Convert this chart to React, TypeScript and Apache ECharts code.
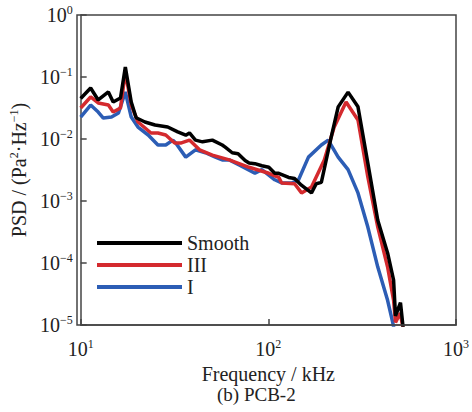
import React, { useEffect, useRef } from "react";
import * as echarts from "echarts";

const smoothFreq = [10, 11.3, 12.4, 14.05, 14.9, 16.3, 17.3, 18.6, 19.75, 22.0, 24.9, 29.1, 32.9, 36.3, 38.0, 40.9, 44.6, 50.3, 56.8, 58.9, 64.2, 69, 75.2, 78.9, 84.8, 92.4, 100.6, 108.2, 113.6, 128.3, 138, 150, 169.8, 180, 191.6, 216.4, 235.6, 266, 300.4, 339, 383, 432, 465, 476, 506, 525];
const smoothPsd = [0.045, 0.0665, 0.0426, 0.0573, 0.0395, 0.0459, 0.145, 0.0395, 0.022, 0.0188, 0.0168, 0.0156, 0.013, 0.0115, 0.0125, 0.0096, 0.009, 0.0096, 0.008, 0.0074, 0.006, 0.0058, 0.0045, 0.0041, 0.004, 0.0037, 0.0035, 0.0028, 0.0028, 0.0024, 0.0023, 0.0018, 0.00135, 0.0019, 0.002, 0.0108, 0.033, 0.057, 0.033, 0.0041, 0.00049, 0.000145, 5.3e-5, 1.4e-5, 2.3e-5, 8e-6];

const iiiFreq = [10, 11.3, 12.4, 14.05, 14.9, 16.3, 17.3, 18.6, 20.2, 23.7, 25.8, 28.4, 31.7, 34.1, 38.0, 43.0, 50.3, 61.9, 78.9, 100.6, 113.6, 117.8, 138, 150.3, 169.8, 198.7, 224.4, 259.5, 300.4, 339, 383, 432, 465, 476, 505, 525];
const iiiPsd = [0.0316, 0.0476, 0.0381, 0.0353, 0.0272, 0.0316, 0.12, 0.0353, 0.0188, 0.0125, 0.0125, 0.0116, 0.0086, 0.0086, 0.0096, 0.0067, 0.0055, 0.0046, 0.0035, 0.0028, 0.0024, 0.00195, 0.0019, 0.00135, 0.00168, 0.0046, 0.0156, 0.0395, 0.0202, 0.00244, 0.00038, 8.6e-5, 2.5e-5, 1.1e-5, 1.56e-5, 8e-6];

const iFreq = [10, 11.3, 12.4, 13.2, 14.6, 15.9, 17.3, 18.6, 20.2, 22.9, 25.8, 28.4, 31.0, 32.1, 36.3, 40.9, 46.2, 52.2, 56.8, 61.9, 69.9, 84.8, 92.4, 108.2, 117.8, 133, 144.9, 163.6, 191.6, 208.5, 235.6, 266, 300.4, 339, 383, 432, 460, 470];
const iPsd = [0.0226, 0.0353, 0.0272, 0.0218, 0.0226, 0.0262, 0.0573, 0.0226, 0.0156, 0.0116, 0.008, 0.008, 0.0096, 0.0086, 0.0051, 0.0067, 0.006, 0.0051, 0.0046, 0.0046, 0.0038, 0.0028, 0.0032, 0.0022, 0.00195, 0.00195, 0.0022, 0.0051, 0.008, 0.0096, 0.0051, 0.0032, 0.00135, 0.00038, 8.6e-5, 2.5e-5, 1.1e-5, 8e-6];

const seriesNames = ["Smooth", "III", "I"];
const seriesColors = ["#000000", "#d42a2e", "#2c5db5"];

const FONT = "'Liberation Serif', 'Times New Roman', serif";

function pairs(f: number[], v: number[]) {
  return f.map((x, i) => [x, v[i]]);
}

function powLabel(value: number) {
  const e = Math.round(Math.log10(value));
  return `{b|10}{e|${e < 0 ? "\u2212" + Math.abs(e) : e}}`;
}

const labelRich = {
  b: { fontSize: 20, fontFamily: FONT, color: "#222", lineHeight: 22 },
  e: { fontSize: 12, fontFamily: FONT, color: "#222", verticalAlign: "top" as const, lineHeight: 12 },
};

export default function App() {
  const ref = useRef<HTMLDivElement>(null);
  useEffect(() => {
    if (!ref.current) return;
    const chart = echarts.init(ref.current, undefined, { renderer: "svg" });
    const axisLine = { show: true, onZero: false, lineStyle: { color: "#444", width: 1.5 } };
    chart.setOption({
      animation: false,
      backgroundColor: "#fff",
      grid: { left: 77, right: 16, top: 15, bottom: 87, containLabel: false },
      legend: {
        left: 92,
        top: 228,
        orient: "vertical",
        icon: "rect",
        itemWidth: 85,
        itemHeight: 4,
        itemGap: 2,
        textStyle: { fontSize: 20, fontFamily: FONT, color: "#222", lineHeight: 20 },
        data: seriesNames,
      },
      xAxis: {
        type: "log",
        logBase: 10,
        min: 10,
        max: 1000,
        name: "Frequency / kHz",
        nameLocation: "middle",
        nameGap: 38,
        nameTextStyle: { fontSize: 20, fontFamily: FONT, color: "#222", lineHeight: 18 },
        axisLine,
        axisTick: { show: true, inside: true, length: 6, lineStyle: { color: "#444", width: 1.5 } },
        minorTick: { show: false },
        splitLine: { show: false },
        axisLabel: { formatter: powLabel, rich: labelRich, margin: 13 },
      },
      yAxis: {
        type: "log",
        logBase: 10,
        min: 1e-5,
        max: 1,
        name: "{n|PSD / (Pa}{s|2}{n|·Hz}{s|\u22121}{n|)}",
        nameLocation: "middle",
        nameGap: 34,
        nameRotate: 90,
        nameTextStyle: {
          rich: {
            n: { fontSize: 20, fontFamily: FONT, color: "#222", lineHeight: 22 },
            s: { fontSize: 12, fontFamily: FONT, color: "#222", verticalAlign: "top", lineHeight: 12 },
          },
        },
        axisLine,
        axisTick: { show: true, inside: true, length: 6, lineStyle: { color: "#444", width: 1.5 } },
        minorTick: { show: false },
        splitLine: { show: false },
        axisLabel: { formatter: powLabel, rich: labelRich, margin: 8 },
      },
      graphic: [
        {
          type: "rect",
          shape: { x: 77, y: 15, width: 379, height: 310 },
          style: { fill: "none", stroke: "#444", lineWidth: 1.5 },
          silent: true,
          z: 10,
        },
        {
          type: "text",
          left: 217,
          top: 385,
          style: { text: "(b) PCB-2", fontSize: 19, fontFamily: FONT, fill: "#222" },
        },
      ],
      series: [
        { name: seriesNames[0], type: "line", data: pairs(smoothFreq, smoothPsd) },
        { name: seriesNames[1], type: "line", data: pairs(iiiFreq, iiiPsd) },
        { name: seriesNames[2], type: "line", data: pairs(iFreq, iPsd) },
      ].map((s, i) => ({
        ...s,
        symbol: "none",
        clip: true,
        z: 3 - i,
        color: seriesColors[i],
        lineStyle: { color: seriesColors[i], width: 3.5 },
      })),
    });
    return () => chart.dispose();
  }, []);
  return (
    <div
      ref={ref}
      style={{ position: "absolute", left: 0, top: 0, width: 472, height: 412 }}
    />
  );
}
